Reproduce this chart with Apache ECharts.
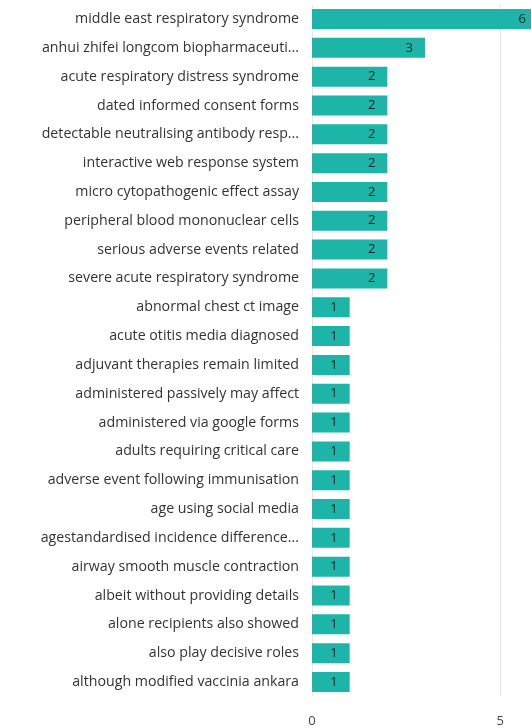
<!DOCTYPE html>
<html>
<head>
<meta charset="utf-8">
<script src="https://cdn.jsdelivr.net/npm/echarts@6/dist/echarts.min.js"></script>
<style>html,body{margin:0;padding:0;background:#fff;}#c{width:531px;height:728px;}</style>
</head>
<body>
<div id="c"></div>
<script>
const categories = [
  "middle east respiratory syndrome",
  "anhui zhifei longcom biopharmaceuti...",
  "acute respiratory distress syndrome",
  "dated informed consent forms",
  "detectable neutralising antibody resp...",
  "interactive web response system",
  "micro cytopathogenic effect assay",
  "peripheral blood mononuclear cells",
  "serious adverse events related",
  "severe acute respiratory syndrome",
  "abnormal chest ct image",
  "acute otitis media diagnosed",
  "adjuvant therapies remain limited",
  "administered passively may affect",
  "administered via google forms",
  "adults requiring critical care",
  "adverse event following immunisation",
  "age using social media",
  "agestandardised incidence difference...",
  "airway smooth muscle contraction",
  "albeit without providing details",
  "alone recipients also showed",
  "also play decisive roles",
  "although modified vaccinia ankara"
];
const values = [6,3,2,2,2,2,2,2,2,2,1,1,1,1,1,1,1,1,1,1,1,1,1,1];
const xTicks = [0, 5];

const chart = echarts.init(document.getElementById('c'), null, {renderer: 'canvas'});
chart.setOption({
  animation: false,
  grid: {left: 312, right: -7, top: 4.6, bottom: 31.6, containLabel: false, outerBoundsMode: 'none'},
  xAxis: {
    type: 'value', min: 0, max: 6, interval: 5,
    axisLine: {show: false}, axisTick: {show: false},
    splitLine: {show: true, lineStyle: {color: '#e6e6e6', width: 1}},
    axisLabel: {color: '#444', fontSize: 13, fontFamily: 'Open Sans', margin: 18,
      formatter: v => xTicks.includes(v) ? String(v) : ''}
  },
  yAxis: {
    type: 'category', data: categories, inverse: true,
    axisLine: {show: false}, axisTick: {show: false},
    axisLabel: {color: '#333', fontSize: 14.2, fontFamily: 'Open Sans', margin: 13}
  },
  series: [{
    type: 'bar', data: values, barWidth: 20,
    itemStyle: {color: '#1cb5a7'},
    label: {show: true, position: 'insideRight', distance: 12, color: '#222', fontSize: 13, fontFamily: 'Open Sans'}
  }]
});
</script>
</body>
</html>
